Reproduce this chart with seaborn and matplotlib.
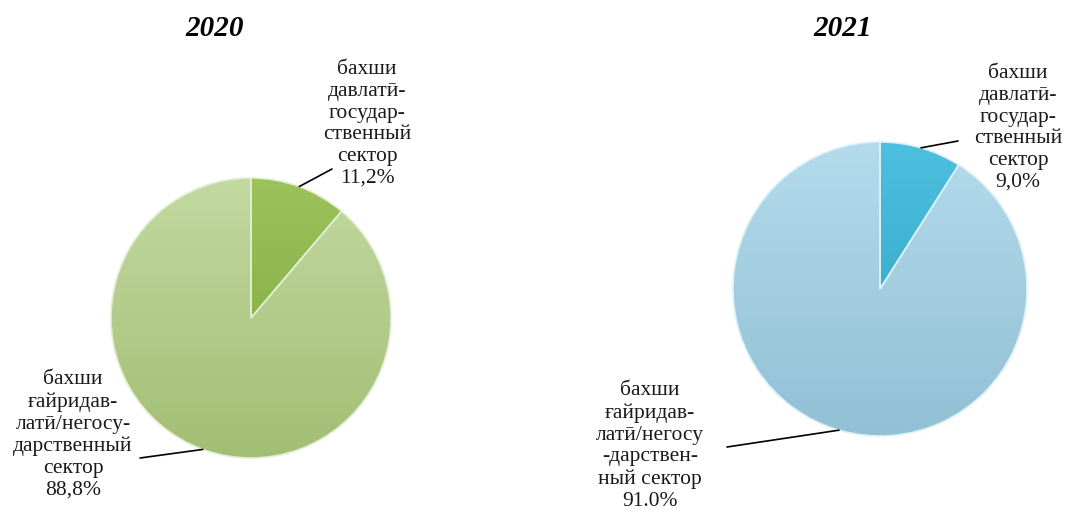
import matplotlib
matplotlib.use("Agg")
import matplotlib.pyplot as plt
from matplotlib.colors import LinearSegmentedColormap
import seaborn as sns
import numpy as np

sns.set_theme(style="white")
plt.rcParams['font.family'] = ['Liberation Serif', 'DejaVu Serif']

years = ["2020", "2021"]
sectors = ["бахши давлатӣ-государственный сектор",
           "бахши ғайридавлатӣ/негосударственный сектор"]
shares_2020 = [11.2, 88.8]
shares_2021 = [9.0, 91.0]
labels_2020 = ["бахши\nдавлатӣ-\nгосудар-\nственный\nсектор\n11,2%",
               "бахши\nғайридав-\nлатӣ/негосу-\nдарственный\nсектор\n88,8%"]
labels_2021 = ["бахши\nдавлатӣ-\nгосудар-\nственный\nсектор\n9,0%",
               "бахши\nғайридав-\nлатӣ/негосу\n-дарствен-\nный сектор\n91.0%"]
# (top colour, bottom colour) for each slice
colors_2020 = [("#9cc35a", "#7aa33c"), ("#c2d9a0", "#a2be74")]
colors_2021 = [("#4cc0de", "#2f9fc0"), ("#b3dbec", "#92c0d4")]

W, H = 1065, 518
fig = plt.figure(figsize=(W / 100, H / 100), dpi=100)
fig.patch.set_facecolor("white")

panels = [
    dict(year=years[0], shares=shares_2020, labels=labels_2020, colors=colors_2020,
         cx=251, cy=318, r=140, year_xy=(215, 28),
         text_px=[(367, 124), (73, 435)], line_px=[(332, 169), (140, 458)],
         edge="#e2eed2"),
    dict(year=years[1], shares=shares_2021, labels=labels_2021, colors=colors_2021,
         cx=880, cy=289, r=147, year_xy=(843, 28),
         text_px=[(1018, 128), (650, 446)], line_px=[(958, 141), (727, 447)],
         edge="#dcf0f8"),
]

grad = np.linspace(1, 0, 256).reshape(-1, 1)

for p in panels:
    cx, cy, r = p["cx"], p["cy"], p["r"]
    ax = fig.add_axes([(cx - r) / W, 1 - (cy + r) / H, 2 * r / W, 2 * r / H])
    wedges, _ = ax.pie(p["shares"], colors=[c[0] for c in p["colors"]], startangle=90,
                       counterclock=False, radius=1,
                       wedgeprops=dict(edgecolor=p["edge"], linewidth=1.2))
    ax.set_xlim(-1, 1)
    ax.set_ylim(-1, 1)
    ax.axis("off")

    for w, (c_top, c_bot) in zip(wedges, p["colors"]):
        cmap = LinearSegmentedColormap.from_list("g", [c_bot, c_top])
        im = ax.imshow(grad, cmap=cmap, extent=[-1, 1, -1, 1], aspect="auto",
                       origin="upper", zorder=2, interpolation="bilinear")
        im.set_clip_path(w)
        w.set_facecolor("none")
        w.set_zorder(3)
    ax.set_xlim(-1, 1)
    ax.set_ylim(-1, 1)

    def to_data(pt):
        return ((pt[0] - cx) / r, (cy - pt[1]) / r)

    for w, lab, tp, lp in zip(wedges, p["labels"], p["text_px"], p["line_px"]):
        ang = np.deg2rad((w.theta1 + w.theta2) / 2)
        edge_pt = (np.cos(ang), np.sin(ang))
        tx, ty = to_data(tp)
        ax.text(tx, ty, lab, ha="center", va="center", fontsize=15.5,
                linespacing=1.2, color="#1a1a1a", clip_on=False, zorder=5)
        ax.annotate("", xy=edge_pt, xytext=to_data(lp),
                    arrowprops=dict(arrowstyle="-", color="black", lw=1.2,
                                    shrinkA=0, shrinkB=0),
                    annotation_clip=False, zorder=5)

    fig.text(p["year_xy"][0] / W, 1 - p["year_xy"][1] / H, p["year"],
             ha="center", va="center", fontsize=21, fontweight="bold",
             fontstyle="italic", color="black")

fig.savefig("out.png", dpi=100, facecolor="white")
